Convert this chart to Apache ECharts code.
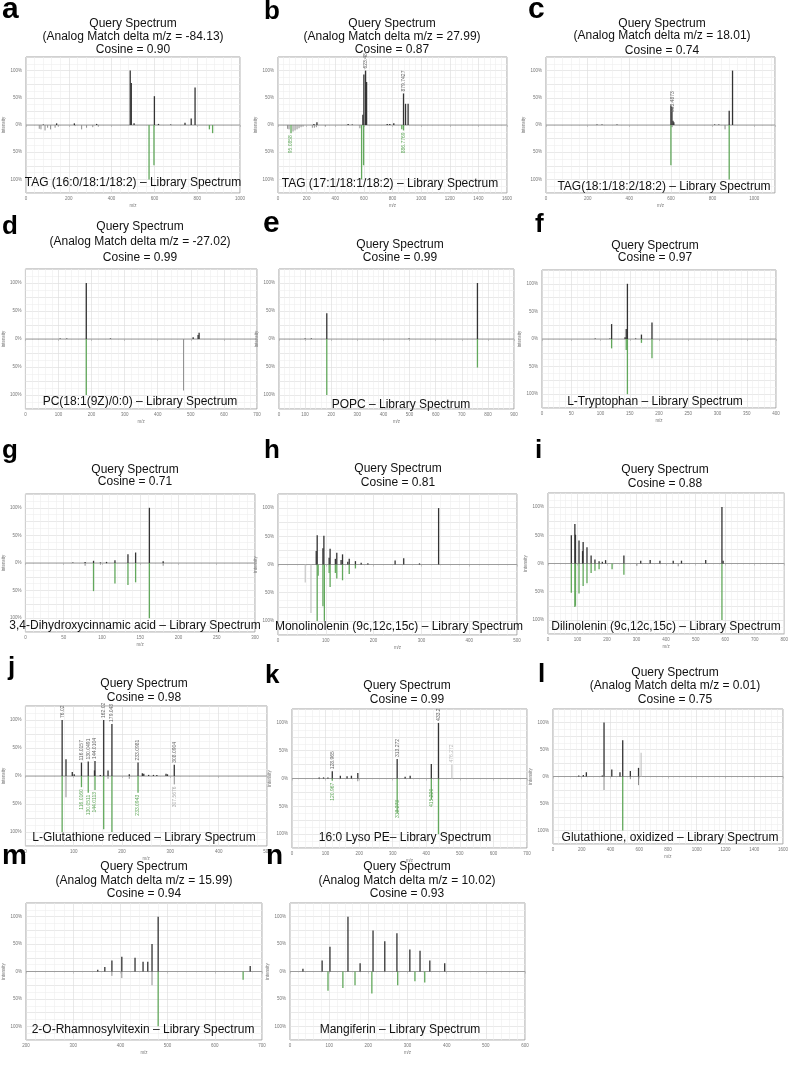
<!DOCTYPE html>
<html><head><meta charset="utf-8">
<script src="https://cdn.jsdelivr.net/npm/echarts@6/dist/echarts.min.js"></script>
<style>html,body{margin:0;padding:0;background:#fff}#c{width:791px;height:1086px}</style>
</head><body><div id="c"></div>
<script>
// ---------- DATA (m/z, relative intensity %) ----------
const aQuery = [[487,100],[492,77],[600,53],[790,69],[772,12],[505,3],[619,2],[743,4],[676,1],[143,3],[226,3],[330,2],[81,1]];
const aLibGreen = [[575,100],[598,74],[872,15],[857,8]];
const aLibGray = [[62,7],[70,8],[89,10],[101,5],[115,8],[136,5],[151,3],[229,2],[260,8],[283,5],[312,4],[338,3]];

const bQuery = [[600,93],[612,100],[619,79],[593,19],[877,58],[891,39],[909,39],[272,5],[490,2],[763,2],[781,2],[809,3],[251,2],[519,1]];
const bLibGreen = [[584,100],[598,74],[91,15],[865,8],[877,10]];
const bLibGray = [[67,7],[77,8],[105,12],[119,10],[133,8],[147,6],[161,4],[175,3],[240,5],[254,5],[268,4],[331,3],[572,6]];
const bQueryLabels = [[612,100,'623.48'],[877,58,'879.7427']];
const bLibLabels = [[91,15,'95.0858'],[877,10,'886.7769']];

const cQuery = [[600,36],[605,33],[610,8],[614,5],[880,26],[896,100],[269,1],[245,1],[341,1],[810,1],[830,1]];
const cLibGreen = [[600,74],[880,100]];
const cLibGray = [[860,8],[606,4]];
const cQueryLabels = [[607,20,'603.4873']];

const dQuery = [[184,100],[525,11],[522,7],[125,1],[105,1],[507,3],[257,1]];
const dLibGreen = [[184,100]];
const dLibGray = [[478,92]];

const eQuery = [[183,46],[760,100],[124,1],[100,1],[498,1]];
const eLibGreen = [[183,100],[760,51]];

const fQuery = [[146,100],[119,27],[144,18],[188,30],[170,8],[91,1],[116,1],[142,3],[160,1]];
const fLibGreen = [[146,100],[119,17],[144,20],[170,7],[188,35]];

const gQuery = [[162,100],[144,19],[134,16],[117,5],[89,4],[106,2],[98,1],[78,2],[180,3],[62,1]];
const gLibGreen = [[162,100],[89,51],[117,37],[134,40],[144,35]];
const gLibGray = [[78,5],[98,3],[106,1],[180,5]];

const hQuery = [[336,100],[82,52],[96,51],[80,24],[94,29],[109,28],[107,12],[123,21],[120,10],[135,18],[132,8],[149,10],[146,5],[162,6],[174,3],[188,2],[245,7],[263,11],[296,2]];
const hLibLight = [[57,32],[69,86]];
const hLibGreen = [[82,100],[84,20],[94,74],[97,100],[109,40],[107,15],[123,25],[120,15],[135,28],[149,17],[162,7]];

const iQuery = [[79,50],[91,70],[93,51],[105,41],[119,38],[117,22],[132,29],[146,14],[159,7],[173,4],[184,3],[195,6],[257,14],[314,5],[346,6],[379,5],[424,5],[452,5],[534,6],[589,100],[593,5]];
const iLibGreen = [[79,52],[91,77],[93,75],[105,53],[119,40],[132,35],[146,17],[159,13],[173,10],[217,10],[257,20],[589,100]];
const iLibGray = [[301,4],[441,5]];

const jQuery = [[76.02,100],[84,30],[116.02,24],[130.05,26],[144.01,27],[143,10],[162.02,100],[171,10],[179.05,93],[233.10,24],[308.09,20],[97,7],[101,3],[155,2],[215,3],[242,5],[245,4],[255,2],[265,2],[272,2],[291,4],[294,3]];
const jLibGreen = [[76.02,100],[116.02,20],[130.05,30],[144.01,25],[162.02,95],[179.05,100],[233.10,30]];
const jLibGray = [[84,38],[171,5],[215,5],[308.09,15]];
const jQueryLabels = [[76.02,100,'76.02'],[116.02,24,'116.0157'],[130.05,26,'130.0491'],[144.01,27,'144.0104'],[162.02,100,'162.02'],[179.05,93,'179.043'],[233.10,24,'233.0981'],[308.09,20,'308.0904']];
const jLibLabels = [[116.02,20,'116.0160'],[130.05,30,'130.0511'],[144.01,25,'144.0113'],[233.10,30,'233.0943']];
const jLibGrayLabels = [[308.09,15,'307.5676']];

const kQuery = [[120,13],[313.272,35],[352,5],[337,3],[415,26],[436.282,100],[81,2],[94,2],[107,2],[144,5],[164,4],[177,5],[196,10]];
const kLight = [[476.272,25]];
const kLibGreen = [[120,4],[313.272,62],[415,38],[436.282,100]];
const kLibGray = [[196,5]];
const kQueryLabels = [[120,13,'128.965'],[313.272,35,'313.272'],[436.282,100,'433.2']];
const kLightLabels = [[476.272,25,'476.272']];
const kLibLabels = [[120,4,'120.967'],[313.272,35,'313.273'],[415,15,'415.220']];

const lQuery = [[355,100],[485,67],[595,16],[538,10],[466,8],[409,13],[343,2],[232,8],[211,3],[179,2]];
const lLight = [[613,44]];
const lLibGreen = [[485,100]];
const lLibGray = [[355,25],[595,16],[538,5]];

const mQuery = [[352,3],[367,8],[382,20],[403,27],[431,25],[448,18],[458,18],[467,50],[480,100],[675,10]];
const mLibGreen = [[480,100],[660,15]];
const mLibGray = [[382,8],[403,12],[467,25]];

const nQuery = [[148,100],[33,5],[82,20],[102,45],[179,15],[212,75],[242,55],[273,70],[306,40],[332,38],[357,20],[395,15]];
const nLibGreen = [[97,35],[135,30],[166,25],[209,40],[275,25],[319,18],[344,20]];

// ---------- PANELS ----------
const panels = [
 {L:'a', Ls:30, Lp:[2,20], box:[26,57,214,136], x:[0,1000,200], tx:133, ty:[24,37,50], title:['Query Spectrum','(Analog Match delta m/z = -84.13)','Cosine = 0.90'], lib:'TAG (16:0/18:1/18:2) – Library Spectrum', lp:[133,183], q:aQuery, g:aLibGreen, gr:aLibGray},
 {L:'b', Ls:26, Lp:[264,21], box:[278,57,229,136], x:[0,1600,200], tx:392, ty:[24,37,50], title:['Query Spectrum','(Analog Match delta m/z = 27.99)','Cosine = 0.87'], lib:'TAG (17:1/18:1/18:2) – Library Spectrum', lp:[390,184], q:bQuery, g:bLibGreen, gr:bLibGray, ql:bQueryLabels, gl:bLibLabels},
 {L:'c', Ls:30, Lp:[528,20], box:[546,57,229,136], x:[0,1100,200], tx:662, ty:[24,36,51], title:['Query Spectrum','(Analog Match delta m/z = 18.01)','Cosine = 0.74'], lib:'TAG(18:1/18:2/18:2) – Library Spectrum', lp:[664,187], q:cQuery, g:cLibGreen, gr:cLibGray, ql:cQueryLabels},
 {L:'d', Ls:26, Lp:[2,236], box:[23,269,234,140], x:[0,700,100], tx:140, ty:[227,242,258], title:['Query Spectrum','(Analog Match delta m/z = -27.02)','Cosine = 0.99'], lib:'PC(18:1(9Z)/0:0) – Library Spectrum', lp:[140,402], q:dQuery, g:dLibGreen, gr:dLibGray},
 {L:'e', Ls:30, Lp:[263,234], box:[279,269,235,140], x:[0,900,100], tx:400, ty:[245,258], title:['Query Spectrum','Cosine = 0.99'], lib:'POPC – Library Spectrum', lp:[401,405], q:eQuery, g:eLibGreen},
 {L:'f', Ls:26, Lp:[535,234], box:[542,270,234,138], x:[0,400,50], tx:655, ty:[246,258], title:['Query Spectrum','Cosine = 0.97'], lib:'L-Tryptophan – Library Spectrum', lp:[655,402], q:fQuery, g:fLibGreen},
 {L:'g', Ls:26, Lp:[2,460], box:[23,494,232,138], x:[0,300,50], tx:135, ty:[470,482], title:['Query Spectrum','Cosine = 0.71'], lib:'3,4-Dihydroxycinnamic acid – Library Spectrum', lp:[135,626], q:gQuery, g:gLibGreen, gr:gLibGray},
 {L:'h', Ls:26, Lp:[264,460], box:[278,494,239,141], x:[0,500,100], tx:398, ty:[469,483], title:['Query Spectrum','Cosine = 0.81'], lib:'Monolinolenin (9c,12c,15c) – Library Spectrum', lp:[399,627], q:hQuery, g:hLibGreen, lt:hLibLight},
 {L:'i', Ls:26, Lp:[535,460], box:[548,493,237,141], x:[0,800,100], tx:665, ty:[470,484], title:['Query Spectrum','Cosine = 0.88'], lib:'Dilinolenin (9c,12c,15c) – Library Spectrum', lp:[666,627], q:iQuery, g:iLibGreen, gr:iLibGray},
 {L:'j', Ls:26, Lp:[8,677], box:[20,706,247,140], x:[0,500,100], tx:144, ty:[684,698], title:['Query Spectrum','Cosine = 0.98'], lib:'L-Glutathione reduced – Library Spectrum', lp:[144,838], q:jQuery, g:jLibGreen, gr:jLibGray, ql:jQueryLabels, gl:jLibLabels, grl:jLibGrayLabels},
 {L:'k', Ls:26, Lp:[265,685], box:[292,709,235,139], x:[0,700,100], tx:407, ty:[686,700], title:['Query Spectrum','Cosine = 0.99'], lib:'16:0 Lyso PE– Library Spectrum', lp:[405,838], q:kQuery, g:kLibGreen, gr:kLibGray, lq:kLight, ql:kQueryLabels, gl:kLibLabels, lql:kLightLabels},
 {L:'l', Ls:26, Lp:[538,684], box:[553,709,232,135], x:[0,1600,200], tx:675, ty:[673,686,700], title:['Query Spectrum','(Analog Match delta m/z = 0.01)','Cosine = 0.75'], lib:'Glutathione, oxidized – Library Spectrum', lp:[670,838], q:lQuery, g:lLibGreen, gr:lLibGray, lq:lLight},
 {L:'m', Ls:28, Lp:[2,866], box:[26,903,236,137], x:[200,700,100], tx:144, ty:[867,881,894], title:['Query Spectrum','(Analog Match delta m/z = 15.99)','Cosine = 0.94'], lib:'2-O-Rhamnosylvitexin – Library Spectrum', lp:[143,1030], q:mQuery, g:mLibGreen, gr:mLibGray},
 {L:'n', Ls:28, Lp:[266,866], box:[290,903,235,137], x:[0,600,100], tx:407, ty:[867,881,894], title:['Query Spectrum','(Analog Match delta m/z = 10.02)','Cosine = 0.93'], lib:'Mangiferin – Library Spectrum', lp:[400,1030], q:nQuery, g:nLibGreen}
];

const C_Q = '#333333', C_G = '#62a85c', C_GR = '#8e8e8e', C_LT = '#c6c6c6';
const FONT = '"Liberation Sans", Arial, Helvetica, sans-serif';

function peaks(data, gi, color, sign, w) {
  return {type:'custom', coordinateSystem:'cartesian2d', xAxisIndex:gi, yAxisIndex:gi, silent:true, clip:true, z:3,
    data: data.map(d => [d[0], sign*d[1]]), encode:{x:0, y:1},
    renderItem: function(params, api) {
      const x = api.value(0), y = api.value(1);
      const p0 = api.coord([x, 0]), p1 = api.coord([x, y]);
      return {type:'line', shape:{x1:p0[0], y1:p0[1], x2:p1[0], y2:p1[1]}, style:{stroke:color, lineWidth:w}};
    }};
}
function labels(data, gi, color, sign) {
  return {type:'custom', coordinateSystem:'cartesian2d', xAxisIndex:gi, yAxisIndex:gi, silent:true, clip:false, z:4,
    data: data.map(d => [d[0], sign*d[1]]), encode:{x:0, y:1},
    renderItem: function(params, api) {
      const x = api.value(0), y = api.value(1);
      const p = api.coord([x, y]);
      return {type:'text', x:p[0], y:p[1] + (sign > 0 ? -2 : 2), rotation:Math.PI/2,
        style:{text:data[params.dataIndex][2], fill:color, font:'5px ' + FONT, align: sign > 0 ? 'left' : 'right', verticalAlign:'middle'}};
    }};
}

const grids = [], xAxes = [], yAxes = [], series = [], graphics = [];
panels.forEach((p, i) => {
  const [l, t, w, h] = p.box;
  grids.push({left:l, top:t, width:w, height:h, show:true, borderColor:'#a3a3a3', borderWidth:1, backgroundColor:'#fff'});
  xAxes.push({type:'value', gridIndex:i, min:p.x[0], max:p.x[1], interval:p.x[2],
    axisLine:{show:false}, axisTick:{show:true, length:2, lineStyle:{color:'#aaa', width:0.6}},
    minorTick:{show:true, splitNumber:5, length:1, lineStyle:{color:'#bbb', width:0.5}},
    axisLabel:{fontSize:4.5, color:'#777', margin:3, fontFamily:FONT, showMaxLabel:(p.x[1] % p.x[2] === 0), formatter: v => String(v)},
    splitLine:{show:true, lineStyle:{color:'#e0e0e0', width:0.7}},
    minorSplitLine:{show:true, lineStyle:{color:'#eeeeee', width:0.6}},
    name:'m/z', nameLocation:'middle', nameGap:10, nameTextStyle:{fontSize:4.5, color:'#777', fontFamily:FONT}});
  yAxes.push({type:'value', gridIndex:i, min:-125, max:125, interval:25,
    axisLine:{show:false}, axisTick:{show:false},
    axisLabel:{fontSize:4.5, color:'#777', margin:4, fontFamily:FONT,
      formatter: v => (v % 50 === 0 && Math.abs(v) <= 100) ? Math.abs(v) + '%' : ''},
    splitLine:{show:true, lineStyle:{color:'#e0e0e0', width:0.7}},
    minorSplitLine:{show:true, lineStyle:{color:'#eeeeee', width:0.6}}, minorTick:{show:false, splitNumber:2},
    name:'intensity', nameLocation:'middle', nameGap:15, nameRotate:90, nameTextStyle:{fontSize:4.5, color:'#777', fontFamily:FONT}});
  series.push({type:'line', xAxisIndex:i, yAxisIndex:i, data:[[p.x[0],0],[p.x[1],0]], symbol:'none', silent:true, z:2,
    lineStyle:{color:'#9d9d9d', width:1.1}});
  if (p.gr) series.push(peaks(p.gr, i, C_GR, -1, 1));
  if (p.lt) series.push(peaks(p.lt, i, C_LT, -1, 1.2));
  if (p.g) series.push(peaks(p.g, i, C_G, -1, 1.3));
  if (p.lq) series.push(peaks(p.lq, i, C_LT, 1, 1.2));
  if (p.q) series.push(peaks(p.q, i, C_Q, 1, 1.3));
  if (p.ql) series.push(labels(p.ql, i, '#666', 1));
  if (p.lql) series.push(labels(p.lql, i, '#bbb', 1));
  if (p.gl) series.push(labels(p.gl, i, C_G, -1));
  if (p.grl) series.push(labels(p.grl, i, '#aaa', -1));
  graphics.push({type:'text', x:p.Lp[0], y:p.Lp[1] - 0.347*p.Ls, z:10,
    style:{text:p.L, font:'bold ' + p.Ls + 'px ' + FONT, fill:'#000', align:'left', verticalAlign:'middle'}});
  p.title.forEach((s, k) => graphics.push({type:'text', x:p.tx, y:p.ty[k], z:10,
    style:{text:s, font:'12px ' + FONT, fill:'#111', align:'center', verticalAlign:'middle'}}));
  graphics.push({type:'text', x:p.lp[0], y:p.lp[1], z:10,
    style:{text:p.lib, font:'12px ' + FONT, fill:'#111', align:'center', verticalAlign:'middle'}});
});

const chart = echarts.init(document.getElementById('c'), null, {renderer:'canvas'});
chart.setOption({animation:false, backgroundColor:'#fff', grid:grids, xAxis:xAxes, yAxis:yAxes, series:series, graphic:{elements:graphics}});
</script></body></html>
